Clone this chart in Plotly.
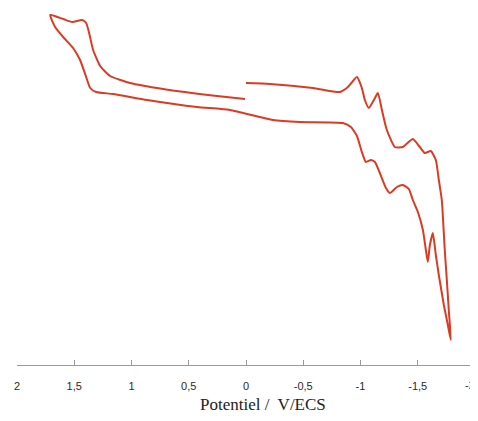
import plotly.graph_objects as go

# Potential (V vs ECS) and current (arbitrary units)
potential = [0.000, -0.209, -0.585, -0.820, -0.890, -0.969, -1.012, -1.038, -1.073, -1.117,
             -1.152, -1.187, -1.230, -1.300, -1.370, -1.457, -1.518, -1.562, -1.614, -1.658,
             -1.684, -1.710, -1.736, -1.754, -1.771, -1.789, -1.763, -1.728, -1.684, -1.658,
             -1.632, -1.606, -1.588, -1.571, -1.545, -1.501, -1.457, -1.422, -1.370, -1.318,
             -1.257, -1.222, -1.169, -1.126, -1.091, -1.047, -1.012, -0.969, -0.916, -0.846,
             -0.471, -0.236, 0.140, 0.428, 0.864, 1.161, 1.309, 1.361, 1.396, 1.449,
             1.510, 1.597, 1.667, 1.710, 1.597, 1.518, 1.431, 1.396, 1.370, 1.335,
             1.274, 1.187, 1.012, 0.724, 0.253, 0.009]
current = [11.7, 11.6, 11.2, 10.8, 11.3, 12.3, 11.2, 10.0, 9.2, 10.0,
           10.7, 9.0, 7.0, 5.3, 5.3, 6.1, 5.3, 4.7, 4.9, 4.0,
           2.0, 0.0, -5.0, -8.0, -11.0, -14.0, -12.5, -10.5, -7.5, -5.5,
           -3.3, -4.5, -6.2, -5.0, -3.0, -1.2, 0.0, 1.1, 1.5, 1.3,
           0.7, 1.2, 2.7, 3.8, 4.0, 3.8, 4.8, 6.4, 7.3, 7.7,
           7.8, 8.0, 9.0, 9.3, 10.0, 10.6, 10.8, 11.2, 12.3, 14.0,
           15.2, 16.3, 17.3, 18.5, 18.1, 17.8, 18.0, 17.7, 16.7, 15.0,
           13.4, 12.4, 11.7, 11.1, 10.4, 10.1]

tick_vals = [2, 1.5, 1, 0.5, 0, -0.5, -1, -1.5, -2]
tick_text = ["2", "1,5", "1", "0,5", "0", "-0,5", "-1", "-1,5", "-2"]
x_title = "Potentiel /  V/ECS"

tick_font = dict(family="Liberation Sans", size=11, color="#2a2a2a")

fig = go.Figure()
fig.add_trace(go.Scatter(
    x=potential, y=current, mode="lines",
    line=dict(color="#dc3a22", width=2, shape="spline", smoothing=0.5),
    showlegend=False, hoverinfo="skip"))

fig.add_annotation(
    text=x_title, xref="paper", yref="paper", x=0.537, y=0,
    xanchor="center", yanchor="middle", yshift=-39, showarrow=False,
    font=dict(family="Liberation Serif", size=17, color="#222"))

# last tick label sits at the very edge: draw it right-anchored so it stays readable
fig.add_annotation(
    text=tick_text[-1], xref="x", yref="paper", x=tick_vals[-1], y=0,
    xanchor="right", yanchor="middle", xshift=2, yshift=-20, showarrow=False,
    font=tick_font)

fig.update_layout(
    width=470, height=413,
    margin=dict(l=9, r=3, t=0, b=56, autoexpand=False),
    paper_bgcolor="white", plot_bgcolor="white",
    xaxis=dict(range=[2, -2], tickvals=tick_vals, ticktext=tick_text[:-1] + [""],
               showgrid=False, zeroline=False, showline=True,
               linecolor="#9a9a9a", linewidth=1,
               ticks="inside", ticklen=5, tickcolor="#9a9a9a",
               ticklabelstandoff=11,
               tickfont=tick_font),
    yaxis=dict(range=[-16.5, 19.2], visible=False, showgrid=False, zeroline=False),
)

fig.write_html("out.html")
